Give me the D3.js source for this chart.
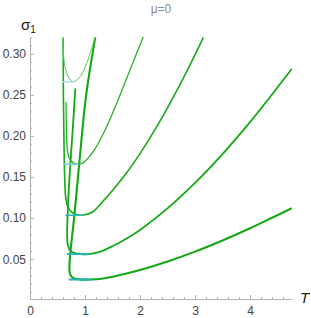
<!DOCTYPE html>
<html>
<head>
<meta charset="utf-8">
<script src="https://cdn.jsdelivr.net/npm/d3@7"></script>
<style>
  body { margin: 0; background: #fff; }
  svg { display: block; font-family: "Liberation Sans", Arial, sans-serif; }
  .axis path, .axis line { stroke: #b3b3b3; }
  .axis text { fill: #444; font-size: 12px; }
</style>
</head>
<body>
<script>
// sigma_1 against T, mu = 0 : five branches
var curve1 = [[1.187,0.320],[1.018,0.248],[0.896,0.167],[0.805,0.102],[0.745,0.0654],[0.718,0.0431],
  [0.727,0.0321],[0.782,0.0273],[0.909,0.0254],[1.109,0.0252],[1.3,0.0262],[1.6,0.0301],
  [2.0,0.0368],[2.5,0.0472],[3.0,0.0592],[3.5,0.0728],[4.0,0.0877],[4.4,0.1004],[4.758,0.112]];
var curve2 = [[0.824,0.258],[0.776,0.207],[0.715,0.1465],[0.685,0.1063],[0.676,0.0796],[0.691,0.0662],
  [0.745,0.0595],[0.873,0.0564],[1.06,0.0561],[1.25,0.0585],[1.5,0.0657],[1.75,0.0748],[2.0,0.0856],
  [2.5,0.1118],[3.0,0.1428],[3.5,0.1779],[4.0,0.2168],[4.4,0.2505],[4.758,0.2815]];
var curve3 = [[0.605,0.320],[0.605,0.268],[0.615,0.207],[0.627,0.159],[0.645,0.1283],[0.682,0.1148],
  [0.745,0.1082],[0.836,0.1045],[0.927,0.1035],[1.0,0.1040],[1.15,0.108],[1.3,0.1185],[1.5,0.1336],
  [1.75,0.1545],[2.0,0.1785],[2.25,0.2052],[2.5,0.2343],[2.75,0.2655],[3.0,0.2987],[3.151,0.320]];
var curve4 = [[0.655,0.2417],[0.66,0.2131],[0.669,0.1927],[0.687,0.1793],[0.727,0.1714],[0.791,0.1672],
  [0.873,0.1656],[0.964,0.1672],[1.145,0.1805],[1.364,0.207],[1.6,0.2436],[1.818,0.2804],[2.06,0.3208]];
var curve5 = [[0.6,0.320],[0.609,0.2985],[0.636,0.2843],[0.696,0.2721],[0.787,0.2661],[0.909,0.2721],
  [1.031,0.2884],[1.122,0.3067],[1.182,0.320]];

// horizontal marks at the minima: [T start, T end, sigma]
var minMarks = [[0.704,1.109,0.0252],[0.667,1.078,0.0561],[0.642,0.958,0.1035],[0.605,0.885,0.1656],[0.582,0.805,0.266]];

var xTicks = [0, 1, 2, 3, 4];
var yTicks = [0.05, 0.10, 0.15, 0.20, 0.25, 0.30];

var curves = [curve1, curve2, curve3, curve4, curve5];
var greens = ["#14a814", "#14a814", "#18aa18", "#2ab22a", "#5cc45c"];
var widths = [2.1, 1.8, 1.6, 1.3, 1.0];
var cyans = ["#22b4b6", "#22b4b6", "#30b9bb", "#74d0d1", "#a9e1e1"];
var cyanW = [2.0, 1.8, 1.6, 1.5, 1.4];

var width = 311, height = 318;

var x = d3.scaleLinear().domain([0, 4.76]).range([30, 291.8]);
var y = d3.scaleLinear().domain([0.0015, 0.32]).range([299, 37.4]);

var svg = d3.select("body").append("svg")
  .attr("width", width)
  .attr("height", height);

// minor ticks
svg.append("g").attr("class", "axis")
  .attr("transform", "translate(0," + y.range()[0] + ")")
  .call(d3.axisBottom(x).tickValues(d3.range(0.2, 4.7, 0.2)).tickSize(-2).tickSizeOuter(0).tickFormat(""));
svg.append("g").attr("class", "axis")
  .attr("transform", "translate(" + x.range()[0] + ",0)")
  .call(d3.axisLeft(y).tickValues(d3.range(0.01, 0.321, 0.01)).tickSize(-2).tickSizeOuter(0).tickFormat(""));

// major ticks + labels
svg.append("g").attr("class", "axis")
  .attr("transform", "translate(0," + y.range()[0] + ")")
  .call(d3.axisBottom(x).tickValues(xTicks).tickSize(-4).tickSizeOuter(0).tickPadding(7.5).tickFormat(d3.format("d")));
svg.append("g").attr("class", "axis")
  .attr("transform", "translate(" + x.range()[0] + ",0)")
  .call(d3.axisLeft(y).tickValues(yTicks).tickSize(-4).tickSizeOuter(0).tickPadding(4).tickFormat(d3.format(".2f")));

var line = d3.line()
  .x(function(d) { return x(d[0]); })
  .y(function(d) { return y(d[1]); })
  .curve(d3.curveCatmullRom.alpha(0.5));

svg.append("g").selectAll("path")
  .data(curves)
  .enter().append("path")
    .attr("d", line)
    .attr("fill", "none")
    .attr("stroke", function(d, i) { return greens[i]; })
    .attr("stroke-width", function(d, i) { return widths[i]; })
    .attr("stroke-linejoin", "round");

svg.append("g").selectAll("line")
  .data(minMarks)
  .enter().append("line")
    .attr("x1", function(d) { return x(d[0]); })
    .attr("x2", function(d) { return x(d[1]); })
    .attr("y1", function(d) { return y(d[2]); })
    .attr("y2", function(d) { return y(d[2]); })
    .attr("stroke", function(d, i) { return cyans[i]; })
    .attr("stroke-width", function(d, i) { return cyanW[i]; });

// labels
var sig = svg.append("text")
  .attr("x", 21).attr("y", 30)
  .style("font-size", "15px").style("fill", "#222");
sig.append("tspan").text("σ");
sig.append("tspan").attr("dy", 3).style("font-size", "10px").text("1");

svg.append("text")
  .attr("x", 300).attr("y", 303)
  .style("font-size", "15px").style("font-style", "italic").style("fill", "#222")
  .text("T");

svg.append("text")
  .attr("x", 161).attr("y", 13)
  .attr("text-anchor", "middle")
  .style("font-size", "12px").style("fill", "#888")
  .text("μ=0");
</script>
</body>
</html>
